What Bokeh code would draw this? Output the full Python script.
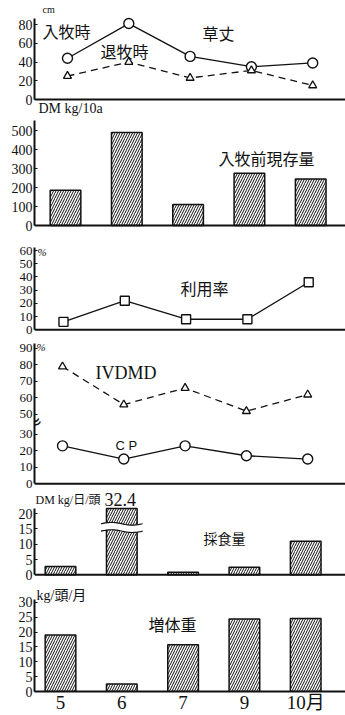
import numpy as np
from bokeh.plotting import figure
from bokeh.layouts import column
from bokeh.models import Label, FixedTicker, Range1d, Span
from bokeh.embed import file_html
from bokeh.resources import INLINE

# ---------------- data ----------------
months = ["5", "6", "7", "9", "10月"]
height_in = [44, 81, 46, 35, 39]        # 草丈 入牧時 cm
height_out = [25, 40, 23, 31, 15]       # 草丈 退牧時 cm
standing_dm = [185, 490, 110, 275, 245]  # 入牧前現存量 DM kg/10a
utilization = [6, 22, 8, 8, 36]          # 利用率 %
ivdmd = [79, 56, 66, 52, 62]             # IVDMD %
cp = [23, 15, 23, 17, 15]                # CP %
intake = [2.7, 32.4, 0.8, 2.5, 11.0]     # 採食量 DM kg/日/頭
gain = [19, 2.5, 15.7, 24.4, 24.6]       # 増体重 kg/頭/月

x = list(range(len(months)))

SERIF = "Liberation Serif"
JP = "Noto Sans CJK JP"
MIX = "Liberation Serif, Noto Sans CJK JP"
INK = "#111111"
W = 345
LEFT = 34            # page x of the y axis
SPACING = 61.3       # px per month
FRAME_W = W - LEFT


class Panel:
    def __init__(self, start, end, axis_top, base, ymax, c0, ticks, labels=None,
                 last=False, tick_size="14px"):
        self.start, self.c0 = start, c0
        h = end - start
        ya, yb = axis_top - start, base - start
        self.yb = yb
        self.s = (yb - ya) / ymax
        bottom = int(round(h - yb)) if last else 0
        xs = -(c0 - LEFT) / SPACING
        y0 = 0 if last else -(h - yb) / self.s
        kw = {} if last else {"x_axis_type": None}
        p = figure(width=W, height=h, output_backend="svg", toolbar_location=None,
                   title=None, x_range=Range1d(xs, xs + FRAME_W / SPACING),
                   y_range=Range1d(y0, yb / self.s),
                   min_border_left=LEFT, min_border_right=0, min_border_top=0,
                   min_border_bottom=bottom, **kw)
        p.outline_line_color = None
        p.grid.visible = False
        p.background_fill_color = "white"
        p.border_fill_color = "white"
        yax = p.yaxis[0]
        yax.bounds = (0, ymax)
        yax.ticker = FixedTicker(ticks=ticks, minor_ticks=[])
        if labels:
            yax.major_label_overrides = {t: l for t, l in zip(ticks, labels)}
        yax.axis_line_width = 2
        yax.axis_line_color = INK
        yax.major_tick_in = 3
        yax.major_tick_out = 0
        yax.major_tick_line_color = INK
        yax.minor_tick_line_color = None
        yax.major_label_standoff = 2
        yax.major_label_text_font = SERIF
        yax.major_label_text_font_size = tick_size
        yax.major_label_text_color = INK
        if last:
            xax = p.xaxis[0]
            xax.ticker = FixedTicker(ticks=x, minor_ticks=[])
            xax.major_label_overrides = {i: m for i, m in zip(x, months)}
            xax.axis_line_width = 2
            xax.axis_line_color = INK
            xax.major_tick_in = 0
            xax.major_tick_out = 0
            xax.minor_tick_line_color = None
            xax.major_label_text_font = MIX
            xax.major_label_text_font_size = "19px"
            xax.major_label_text_color = INK
            xax.major_label_standoff = 0
        else:
            p.add_layout(Span(location=0, dimension="width", line_color=INK, line_width=2))
        self.p = p

    def label(self, page_x, page_y, text, font=JP, size="16px", style="normal",
              align="left", **kw):
        xd = (page_x - self.c0) / SPACING
        yd = (self.yb - (page_y - self.start)) / self.s
        self.p.add_layout(Label(x=xd, y=yd, text=text, text_font=font, text_font_size=size,
                                text_align=align, text_baseline="middle", text_color=INK,
                                text_font_style=style, **kw))


def bars(p, vals):
    p.vbar(x=x, top=vals, width=0.5, fill_color="white", line_color=INK, line_width=1.5,
           hatch_pattern="/", hatch_scale=5, hatch_weight=1, hatch_color=INK)


# ---------- 1: 草丈 ----------
P1 = Panel(0, 118, 18, 99, 86.4, 67, [0, 20, 40, 60, 80])
p1 = P1.p
p1.line(x, height_in, line_color=INK, line_width=1.3)
p1.scatter(x, height_in, marker="circle", size=10, fill_color="white", line_color=INK, line_width=1.4)
p1.line(x, height_out, line_color=INK, line_width=1.3, line_dash="7 5")
p1.scatter(x, height_out, marker="triangle", size=8, fill_color="white", line_color=INK, line_width=1.3)
P1.label(42, 8.5, "cm", font=SERIF, size="10px")
P1.label(42, 30, "入牧時")
P1.label(100, 50, "退牧時")
P1.label(202, 32, "草丈")
P1.label(38, 108, "DM  kg/10a", font=MIX, size="14px")   # unit of panel 2

# ---------- 2: 入牧前現存量 ----------
P2 = Panel(118, 238, 120, 225, 553, 65, [0, 100, 200, 300, 400, 500])
bars(P2.p, standing_dm)
P2.label(218, 157, "入牧前現存量")

# ---------- 3: 利用率 ----------
P3 = Panel(238, 339, 247, 329.3, 62.3, 63, [0, 10, 20, 30, 40, 50, 60], tick_size="13px")
p3 = P3.p
p3.line(x, utilization, line_color=INK, line_width=1.3)
p3.scatter(x, utilization, marker="square", size=9, fill_color="white", line_color=INK, line_width=1.4)
P3.label(37, 251, "%", font=SERIF, size="11px", style="italic")
P3.label(180, 287, "利用率")

# ---------- 4: IVDMD / CP (broken axis) ----------
BREAK_SHIFT = 8
hi_ticks = [50, 60, 70, 80, 90]
lo_ticks = [0, 10, 20, 30]
P4 = Panel(339, 491, 343, 483.3, 85, 62, lo_ticks + [t - BREAK_SHIFT for t in hi_ticks],
           labels=[str(t) for t in lo_ticks + hi_ticks], tick_size="13px")
p4 = P4.p
ivdmd_disp = [v - BREAK_SHIFT for v in ivdmd]
p4.line(x, ivdmd_disp, line_color=INK, line_width=1.3, line_dash="7 5")
p4.scatter(x, ivdmd_disp, marker="triangle", size=8, fill_color="white", line_color=INK, line_width=1.3)
p4.line(x, cp, line_color=INK, line_width=1.3)
p4.scatter(x, cp, marker="circle", size=10, fill_color="white", line_color=INK, line_width=1.4)
P4.label(34, 422, "≈", font="DejaVu Sans", size="18px", angle=0.5, align="center")
P4.label(36, 346, "%", font=SERIF, size="11px", style="italic")
P4.label(95, 372, "IVDMD", font=SERIF, size="18px")
P4.label(115, 445, "C  P", font="Liberation Sans", size="13px")

# ---------- 5: 採食量 (broken bar) ----------
INTAKE_CAP = 21.7
P5 = Panel(491, 585, 508, 574.3, 21.7, 60, [0, 5, 10, 15, 20])
p5 = P5.p
bars(p5, [min(v, INTAKE_CAP) for v in intake])
ib = int(np.argmax(intake))
xb = np.linspace(ib - 0.34, ib + 0.34, 40)
wave = 0.45 * np.sin((xb - xb[0]) / (xb[-1] - xb[0]) * 2 * np.pi)
lo_edge = 14.3 + wave
hi_edge = 16.7 + wave
p5.patch(np.concatenate([xb, xb[::-1]]), np.concatenate([lo_edge, hi_edge[::-1]]),
         fill_color="white", line_color=None)
p5.line(xb, lo_edge, line_color=INK, line_width=1.2)
p5.line(xb, hi_edge, line_color=INK, line_width=1.2)
P5.label(35, 499, "DM  kg/日/頭", font=MIX, size="12px")
P5.label(104, 498.5, f"{intake[ib]}", font=SERIF, size="18px")
P5.label(203, 537, "採食量", size="14px")

# ---------- 6: 増体重 ----------
P6 = Panel(585, 715, 600, 695, 30.8, 60, [0, 5, 10, 15, 20, 25, 30], last=True)
bars(P6.p, gain)
P6.label(36, 595, "kg/頭/月", font=MIX, size="14px")
P6.label(148, 625, "増体重")

layout = column(P1.p, P2.p, P3.p, P4.p, P5.p, P6.p, spacing=0)
open("out.html", "w").write(file_html(layout, INLINE))
